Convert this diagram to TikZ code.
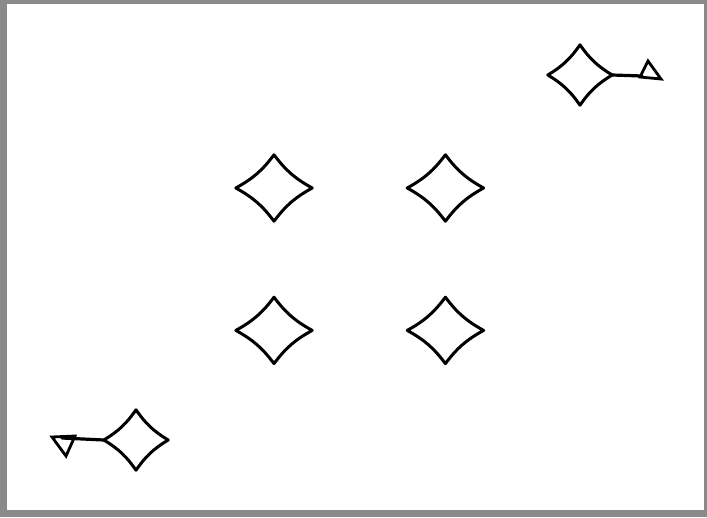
\documentclass[tikz,border=0pt]{standalone}
\usepackage{tikz}
\usetikzlibrary{positioning, arrows.meta}

\definecolor{framegray}{RGB}{138,138,138}

\begin{document}
\begin{tikzpicture}[
  x=1pt, y=-1pt,
  gem/.style={rectangle, draw=none, inner sep=0pt,
              minimum width=76pt, minimum height=66pt},
  smallgem/.style={gem, minimum width=64pt, minimum height=60pt},
  edge/.style={line width=3pt, line join=round},
  wire/.style={line width=3.2pt, line cap=round},
  tip/.style={line width=2.8pt, line join=miter}
]
% frame
\fill[framegray] (0,0) rectangle (707,517);
\fill[white] (7,4) rectangle (704,510);
\useasboundingbox (0,0) rectangle (707,517);

% centre block
\node[gem] (ul) at (274,188) {};
\node[gem, right=95pt of ul] (ur) {};
\node[gem, below=76pt of ul] (ll) {};
\node[gem, below=76pt of ur] (lr) {};

% corner pieces
\node[smallgem] (tr) at (580,75) {};
\node[smallgem] (bl) at (136,440) {};

\foreach \n in {ul,ur,ll,lr,tr,bl}
  \draw[edge] (\n.east) to[bend left=12] (\n.north)
              to[bend left=12] (\n.west)
              to[bend left=12] (\n.south)
              to[bend left=12] (\n.east) -- cycle;

% pointers
\coordinate (trend) at (642,76);
\coordinate (bleend) at (62,438);
\draw[wire] (tr.east) -- (trend);
\draw[wire] (bl.west) -- (bleend);

\draw[tip] (648,61) -- (661,79) -- (640,77) -- cycle;
\draw[tip] (52,437) -- (75,436) -- (66,456) -- cycle;
\end{tikzpicture}
\end{document}
